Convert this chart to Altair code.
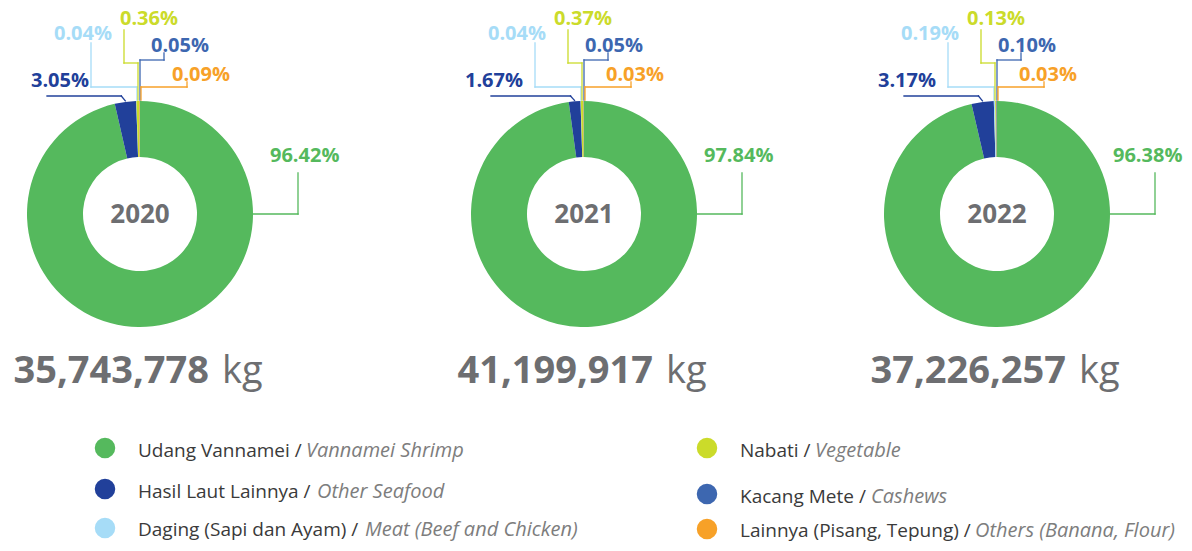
import math
import altair as alt
import pandas as pd

# ---------------- data ----------------
categories = ["Udang Vannamei", "Hasil Laut Lainnya", "Daging (Sapi dan Ayam)",
              "Nabati", "Kacang Mete", "Lainnya (Pisang, Tepung)"]
english = ["Vannamei Shrimp", "Other Seafood", "Meat (Beef and Chicken)",
           "Vegetable", "Cashews", "Others (Banana, Flour)"]
colors = ["#55b95d", "#21409a", "#a6dcf7", "#cbdb2a", "#3d67b0", "#f7a128"]
years = ["2020", "2021", "2022"]
share_2020 = [96.42, 3.05, 0.04, 0.36, 0.05, 0.09]
share_2021 = [97.84, 1.67, 0.04, 0.37, 0.05, 0.03]
share_2022 = [96.38, 3.17, 0.19, 0.13, 0.10, 0.03]
totals = ["35,743,778", "41,199,917", "37,226,257"]
shares = [share_2020, share_2021, share_2022]

# ---------------- layout ----------------
W, H = 1176, 535
M = 8                      # page margin
centers = [140, 584, 997]  # donut centres (page px)
CY = 214
R_OUT, R_IN = 113, 57
label_shift = [10, 0, 0]
big_shift = [10, 0, -4]
GRAY = "#6d6e71"

# small label anchors relative to centre: (dx, baseline y)
small_label = {1: (-90, 87), 2: (-67, 40), 3: (-1, 25), 4: (30, 52), 5: (51, 81)}
# leader polylines relative to centre (dx, y)
leaders = {
    0: [(R_OUT, CY), (158, CY), (158, 173)],
    2: [(-49, 43), (-49, 87), (-3, 87), (-3, 100)],
    3: [(-16, 30), (-16, 63), (-2, 63), (-2, 100)],
    4: [(24, 53), (24, 60), (0, 60), (0, 100)],
    5: [(47, 82), (47, 87), (1, 87), (1, 100)],
}

arc_rows, lab_rows, big_rows, seg_rows = [], [], [], []
for i, yr in enumerate(years):
    cx = centers[i]
    for k, cat in enumerate(categories):
        arc_rows.append({"year": yr, "cat": cat, "idx": k, "value": shares[i][k]})
        txt = f"{shares[i][k]:.2f}%"
        if k == 0:
            big_rows.append({"px": cx + 120 + big_shift[i] - M, "py": 162 - M, "t": txt, "cat": cat})
        else:
            dx, yy = small_label[k]
            lab_rows.append({"px": cx + dx + label_shift[i] - M, "py": yy - M, "t": txt, "cat": cat})
    for k, pts in leaders.items():
        for (a, b) in zip(pts[:-1], pts[1:]):
            seg_rows.append({"x": cx + a[0] - M, "y": a[1] - M,
                             "x2": cx + b[0] - M, "y2": b[1] - M, "cat": categories[k]})
    # seafood leader: horizontal then to the slice's mid-angle on the outer edge
    mid = (shares[i][0] + shares[i][1] / 2) / 100 * 2 * math.pi
    ex = cx + (R_OUT + 1) * math.sin(mid)
    ey = CY - (R_OUT + 1) * math.cos(mid)
    seg_rows.append({"x": cx - 93 - M, "y": 96 - M, "x2": ex - 4 - M, "y2": 96 - M, "cat": categories[1]})
    seg_rows.append({"x": ex - 4 - M, "y": 96 - M, "x2": ex - M, "y2": ey - M, "cat": categories[1]})

arc_df = pd.DataFrame(arc_rows)
lab_df = pd.DataFrame(lab_rows)
big_df = pd.DataFrame(big_rows)
seg_df = pd.DataFrame(seg_rows)

year_df = pd.DataFrame({"px": [c - M for c in centers], "py": [223 - M] * 3, "t": years})
num_df = pd.DataFrame({"px": [c + 69 - M for c in centers], "py": [383 - M] * 3, "t": totals})
kg_df = pd.DataFrame({"px": [c + 82 - M for c in centers], "py": [383 - M] * 3, "t": ["kg"] * 3})

# legend layout (page px)
leg_circle = [(105, 448), (105, 489), (105, 528), (707, 448), (707, 494), (707, 529)]
leg_base = [457, 498, 536, 457, 503, 537]
leg_text_x = [138, 138, 138, 740, 740, 740]
leg_ital_x = [306, 317, 365, 815, 871, 975]
leg_df = pd.DataFrame({
    "cat": categories,
    "cx": [p[0] - M for p in leg_circle],
    "cy": [p[1] - M for p in leg_circle],
    "by": [b - M for b in leg_base],
    "tx": [x - M for x in leg_text_x],
    "ix": [x - M for x in leg_ital_x],
    "reg": [c + " /" for c in categories],
    "ita": english,
})

# ---------------- chart ----------------
color_scale = alt.Scale(domain=categories, range=colors)
xs = alt.Scale(domain=[0, W], range=[0, W], nice=False, zero=False)
ys = alt.Scale(domain=[0, H], range=[0, H], nice=False, zero=False)
FONT = "Open Sans"


def X(f):
    return alt.X(f, scale=xs, axis=None)


def Y(f):
    return alt.Y(f, scale=ys, axis=None)


layers = []
for i, yr in enumerate(years):
    layers.append(
        alt.Chart(arc_df).transform_filter(alt.datum.year == yr)
        .mark_arc(innerRadius=R_IN, outerRadius=R_OUT)
        .encode(
            theta=alt.Theta("value:Q", stack="normalize"),
            color=alt.Color("cat:N", scale=color_scale, legend=None),
            order=alt.Order("idx:Q"),
            x=alt.value(centers[i] - M),
            y=alt.value(CY - M),
        )
    )

segs = alt.Chart(seg_df).mark_rule(strokeWidth=1.3, strokeCap="square").encode(
    x=X("x:Q"), y=Y("y:Q"), x2="x2:Q", y2="y2:Q",
    color=alt.Color("cat:N", scale=color_scale, legend=None),
)

small = alt.Chart(lab_df).mark_text(font=FONT, fontSize=20, fontWeight="bold",
                                    align="center", baseline="alphabetic").encode(
    x=X("px:Q"), y=Y("py:Q"), text="t:N",
    color=alt.Color("cat:N", scale=color_scale, legend=None))

big = alt.Chart(big_df).mark_text(font=FONT, fontSize=20, fontWeight="bold",
                                  align="left", baseline="alphabetic").encode(
    x=X("px:Q"), y=Y("py:Q"), text="t:N",
    color=alt.Color("cat:N", scale=color_scale, legend=None))

year_t = alt.Chart(year_df).mark_text(font=FONT, fontSize=26, fontWeight="bold",
                                      align="center", baseline="alphabetic", color=GRAY).encode(
    x=X("px:Q"), y=Y("py:Q"), text="t:N")

num_t = alt.Chart(num_df).mark_text(font=FONT, fontSize=38, fontWeight="bold",
                                    align="right", baseline="alphabetic", color=GRAY).encode(
    x=X("px:Q"), y=Y("py:Q"), text="t:N")

kg_t = alt.Chart(kg_df).mark_text(font=FONT, fontSize=38, fontWeight="normal",
                                  align="left", baseline="alphabetic", color=GRAY).encode(
    x=X("px:Q"), y=Y("py:Q"), text="t:N")

leg_dot = alt.Chart(leg_df).mark_circle(size=420, opacity=1).encode(
    x=X("cx:Q"), y=Y("cy:Q"),
    color=alt.Color("cat:N", scale=color_scale, legend=None))

leg_reg = alt.Chart(leg_df).mark_text(font=FONT, fontSize=19, align="left",
                                      baseline="alphabetic", color="#3a3a3a").encode(
    x=X("tx:Q"), y=Y("by:Q"), text="reg:N")

leg_ita = alt.Chart(leg_df).mark_text(font=FONT, fontSize=20, fontStyle="italic", align="left",
                                      baseline="alphabetic", color="#7d7d7d").encode(
    x=X("ix:Q"), y=Y("by:Q"), text="ita:N")

chart = alt.layer(*layers, segs, small, big, year_t, num_t, kg_t,
                  leg_dot, leg_reg, leg_ita).properties(
    width=W, height=H, padding=0, autosize="none", background="white"
).configure_view(stroke=None)

chart.save("out.html", embed_options={"renderer": "svg", "actions": False})
